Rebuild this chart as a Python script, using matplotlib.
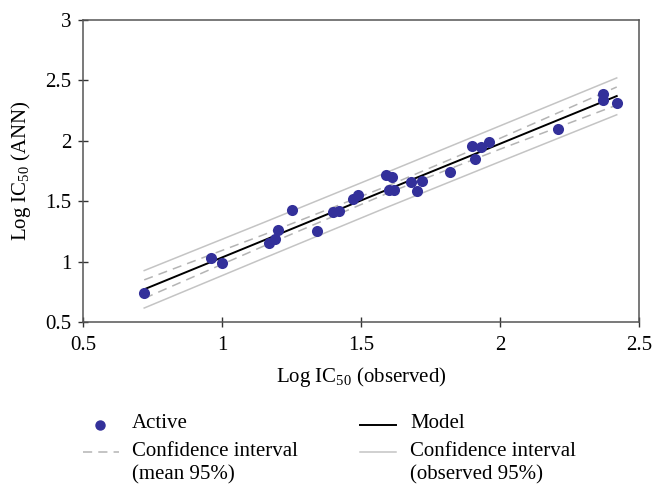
import matplotlib
matplotlib.use("Agg")
import matplotlib.pyplot as plt
from matplotlib.lines import Line2D

plt.rcParams['font.family'] = ['Liberation Serif', 'DejaVu Serif']
plt.rcParams['mathtext.fontset'] = 'custom'
plt.rcParams['mathtext.rm'] = 'Liberation Serif'

# observed vs predicted (ANN) values
obs = [0.72, 0.96, 1.00, 1.17, 1.19, 1.20, 1.25, 1.34, 1.40, 1.42, 1.47, 1.49,
       1.59, 1.61, 1.60, 1.62, 1.68, 1.72, 1.70, 1.82, 1.90, 1.93, 1.91, 1.96,
       2.21, 2.37, 2.37, 2.42]
ann = [0.74, 1.03, 0.99, 1.15, 1.19, 1.26, 1.43, 1.25, 1.41, 1.42, 1.52, 1.55,
       1.72, 1.70, 1.59, 1.59, 1.66, 1.67, 1.58, 1.74, 1.96, 1.95, 1.85, 1.99,
       2.10, 2.39, 2.34, 2.31]

# model line and confidence bands, sampled along x
band_x = [0.72, 1.15, 1.60, 2.00, 2.42]
model_y = [0.77, 1.175, 1.60, 1.975, 2.37]
mean_lo = [0.695, 1.128, 1.57, 1.93, 2.295]
mean_hi = [0.848, 1.222, 1.63, 2.02, 2.445]
obs_lo = [0.615, 1.027, 1.455, 1.827, 2.215]
obs_hi = [0.925, 1.323, 1.745, 2.123, 2.52]

xticks = [0.5, 1, 1.5, 2, 2.5]
yticks = [0.5, 1, 1.5, 2, 2.5, 3]

dot_col = '#33309a'
obs_col = '#c4c4c4'
mean_col = '#b4b4b4'
fs = 15

fig = plt.figure(figsize=(6.54, 4.87), dpi=100)
ax = fig.add_axes([0.127, 0.339, 0.850, 0.620])

ax.plot(band_x, obs_lo, color=obs_col, lw=1.1)
ax.plot(band_x, obs_hi, color=obs_col, lw=1.1)
ax.plot(band_x, mean_lo, color=mean_col, lw=1.1, dashes=(6, 4))
ax.plot(band_x, mean_hi, color=mean_col, lw=1.1, dashes=(6, 4))
ax.plot(band_x, model_y, color='black', lw=1.4)
ax.scatter(obs, ann, s=64, color=dot_col, zorder=5, linewidths=0)

ax.set_xlim(0.5, 2.5)
ax.set_ylim(0.5, 3)
ax.set_xticks(xticks)
ax.set_yticks(yticks)
ax.set_xticklabels([f'{t:g}' for t in xticks])
ax.set_yticklabels([f'{t:g}' for t in yticks])
ax.tick_params(direction='inout', length=7, width=1, labelsize=fs, color='#333333', pad=5)
ax.tick_params(axis='x', pad=7)
for s in ax.spines.values():
    s.set_color('#555555')
    s.set_linewidth(1.1)

ax.set_xlabel('Log IC$_{50}$ (observed)', fontsize=fs, labelpad=7)
ax.set_ylabel('Log IC$_{50}$ (ANN)', fontsize=fs, labelpad=9)

# legend below the axes, drawn by hand so the handles sit on the first text line
def fy(y):
    return 1 - y / 487

def leg_line(x0, x1, y, **kw):
    fig.add_artist(Line2D([x0 / 654, x1 / 654], [fy(y), fy(y)], **kw))

def leg_text(x, y, s):
    fig.text(x / 654, fy(y), s, fontsize=fs, va='center', ha='left')

fig.add_artist(Line2D([100 / 654], [fy(425)], marker='o', ms=6.5,
                      color=dot_col, ls='none'))
leg_text(132, 424, 'Active')
leg_line(83, 119, 452, color=mean_col, lw=1.1, dashes=(6, 4))
leg_text(132, 451, 'Confidence interval')
leg_text(132, 475, '(mean 95%)')

leg_line(360, 396, 425, color='black', lw=1.4)
leg_text(410, 424, 'Model')
leg_line(360, 396, 452, color=obs_col, lw=1.1)
leg_text(410, 451, 'Confidence interval')
leg_text(410, 475, '(observed 95%)')

fig.savefig('out.png', dpi=100)
